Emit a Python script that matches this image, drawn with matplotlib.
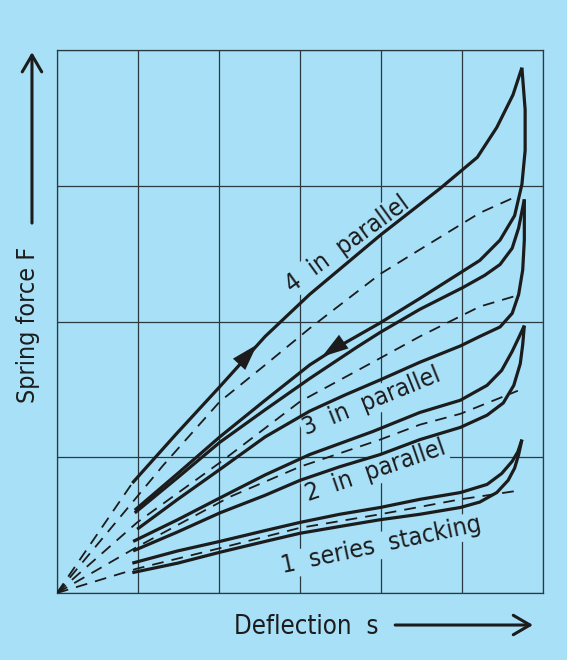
import matplotlib.pyplot as plt
from matplotlib.patches import FancyArrowPatch

plt.rcParams['font.family'] = ['DejaVu Sans']
plt.rcParams['font.stretch'] = 'condensed'

bg = '#a8e0f8'
ink = '#1c1c1c'
grid_c = '#2b3a40'

# Kennlinien, abgelesen in Rastereinheiten (s: 0..6, F: 0..4)
# 4 in parallel
s4_load = [0.93, 1.47, 2.01, 2.57, 3.12, 4.00, 4.73, 5.19, 5.31, 5.43, 5.63, 5.74]
F4_load = [0.81, 1.17, 1.52, 1.89, 2.20, 2.64, 2.98, 3.21, 3.32, 3.43, 3.67, 3.87]
s4_unload = [5.74, 5.78, 5.78, 5.74, 5.65, 5.47, 5.22, 4.48, 3.99, 3.46, 3.12, 2.57, 2.01, 1.49, 0.96]
F4_unload = [3.87, 3.56, 3.26, 3.01, 2.78, 2.60, 2.45, 2.17, 1.99, 1.81, 1.68, 1.42, 1.15, 0.88, 0.61]
s4_mid = [0, 0.53, 1.31, 2.01, 2.57, 3.12, 3.99, 4.48, 5.22, 5.63]
F4_mid = [0, 0.38, 0.94, 1.41, 1.68, 1.95, 2.35, 2.53, 2.80, 2.91]

# 3 in parallel
s3_load = [0.96, 1.49, 2.01, 2.57, 3.12, 3.70, 3.99, 4.48, 5.01, 5.28, 5.47, 5.62, 5.70, 5.77]
F3_load = [0.59, 0.85, 1.11, 1.35, 1.58, 1.81, 1.92, 2.09, 2.25, 2.34, 2.42, 2.54, 2.69, 2.90]
s3_unload = [5.77, 5.77, 5.75, 5.70, 5.62, 5.47, 5.22, 4.98, 4.48, 3.99, 3.56, 3.12, 2.57, 2.01, 1.49, 0.99]
F3_unload = [2.90, 2.60, 2.38, 2.20, 2.06, 1.96, 1.89, 1.82, 1.70, 1.57, 1.46, 1.34, 1.15, 0.91, 0.69, 0.47]
s3_mid = [0, 0.99, 2.01, 3.00, 3.99, 4.48, 5.22, 5.67]
F3_mid = [0, 0.52, 0.96, 1.41, 1.73, 1.89, 2.11, 2.19]

# 2 in parallel
s2_load = [0.94, 1.49, 2.01, 2.57, 3.12, 3.90, 4.48, 4.98, 5.31, 5.49, 5.62, 5.70, 5.77]
F2_load = [0.38, 0.54, 0.70, 0.87, 1.02, 1.19, 1.33, 1.42, 1.53, 1.64, 1.78, 1.88, 1.97]
s2_unload = [5.77, 5.75, 5.72, 5.64, 5.51, 5.31, 4.98, 4.48, 3.99, 3.49, 3.00, 2.57, 2.01, 1.49, 0.94]
F2_unload = [1.97, 1.83, 1.69, 1.53, 1.40, 1.31, 1.22, 1.13, 1.02, 0.93, 0.83, 0.72, 0.59, 0.45, 0.31]
s2_mid = [0, 0.99, 2.14, 3.00, 3.99, 4.48, 4.98, 5.69]
F2_mid = [0, 0.34, 0.71, 0.93, 1.13, 1.24, 1.32, 1.49]

# 1 series stacking
s1_load = [0.93, 1.49, 2.01, 2.57, 3.00, 3.49, 3.99, 4.48, 4.98, 5.31, 5.49, 5.62, 5.69, 5.74]
F1_load = [0.22, 0.31, 0.38, 0.46, 0.52, 0.58, 0.63, 0.69, 0.74, 0.80, 0.88, 0.97, 1.04, 1.13]
s1_unload = [5.74, 5.70, 5.65, 5.57, 5.43, 5.22, 4.98, 4.48, 3.99, 3.49, 3.00, 2.57, 2.01, 1.49, 0.93]
F1_unload = [1.13, 1.02, 0.92, 0.83, 0.74, 0.67, 0.63, 0.58, 0.54, 0.49, 0.44, 0.38, 0.30, 0.22, 0.15]
s1_mid = [0, 0.99, 2.01, 3.00, 3.99, 4.98, 5.65]
F1_mid = [0, 0.18, 0.33, 0.48, 0.58, 0.69, 0.75]

# Strahl vom Ursprung zum Beginn der 4er-Schleife
s_ray = [0, 0.93]
F_ray = [0, 0.81]

labels = ['4  in  parallel', '3  in  parallel', '2  in  parallel', '1  series  stacking']
label_s = [3.64, 3.91, 3.96, 4.02]
label_F = [2.53, 1.36, 0.85, 0.30]
label_rot = [36, 22, 19, 12]

fig = plt.figure(figsize=(5.67, 6.6), dpi=100)
fig.patch.set_facecolor(bg)
ax = fig.add_axes([0.1005, 0.1015, 0.8571, 0.8227])
ax.set_facecolor(bg)
ax.set_xlim(0, 6)
ax.set_ylim(0, 4)
ax.set_xticks(range(7))
ax.set_yticks(range(5))
ax.tick_params(length=0, labelbottom=False, labelleft=False)
ax.grid(True, color=grid_c, lw=0.9)
ax.set_axisbelow(True)
for sp in ax.spines.values():
    sp.set_color(grid_c)
    sp.set_linewidth(0.9)

solid = dict(color=ink, lw=2.3, solid_joinstyle='round', solid_capstyle='butt', zorder=4)
dashed = dict(color=ink, lw=1.3, dashes=(6.5, 4.5), zorder=3)

for s, F in [(s4_load, F4_load), (s4_unload, F4_unload), (s3_load, F3_load), (s3_unload, F3_unload),
             (s2_load, F2_load), (s2_unload, F2_unload), (s1_load, F1_load), (s1_unload, F1_unload)]:
    ax.plot(s, F, **solid)

for s, F in [(s4_mid, F4_mid), (s3_mid, F3_mid), (s2_mid, F2_mid), (s1_mid, F1_mid), (s_ray, F_ray)]:
    ax.plot(s, F, **dashed)

# Pfeile auf der 4er-Schleife (Belastung / Entlastung)
for tail, head in [((2.21, 1.66), (2.47, 1.83)), ((3.56, 1.86), (3.27, 1.74))]:
    ax.add_patch(FancyArrowPatch(tail, head, arrowstyle='-|>,head_length=1.6,head_width=0.5',
                                 mutation_scale=12, color=ink, lw=0, shrinkA=0, shrinkB=0, zorder=5))

for txt, s, F, r in zip(labels, label_s, label_F, label_rot):
    ax.text(s, F, txt, rotation=r, rotation_mode='anchor', ha='center', va='baseline',
            fontsize=18, color=ink, zorder=2,
            bbox=dict(facecolor=bg, edgecolor='none', pad=1))

# Achsbeschriftungen mit Pfeilen
fig.text(0.0617, 0.5083, 'Spring force F', rotation=90, rotation_mode='anchor',
         ha='center', va='baseline', fontsize=18, color=ink)
fig.text(0.5397, 0.0394, 'Deflection  s', ha='center', va='baseline', fontsize=18.5, color=ink)

fig.add_artist(FancyArrowPatch((0.0564, 0.662), (0.0564, 0.921), transform=fig.transFigure,
                               arrowstyle='->,head_length=0.6,head_width=0.35', mutation_scale=20,
                               color=ink, lw=2.2, shrinkA=0, shrinkB=0))
fig.add_artist(FancyArrowPatch((0.697, 0.053), (0.940, 0.053), transform=fig.transFigure,
                               arrowstyle='->,head_length=0.6,head_width=0.35', mutation_scale=20,
                               color=ink, lw=2.2, shrinkA=0, shrinkB=0))

fig.savefig('out.png', dpi=100, facecolor=bg)
